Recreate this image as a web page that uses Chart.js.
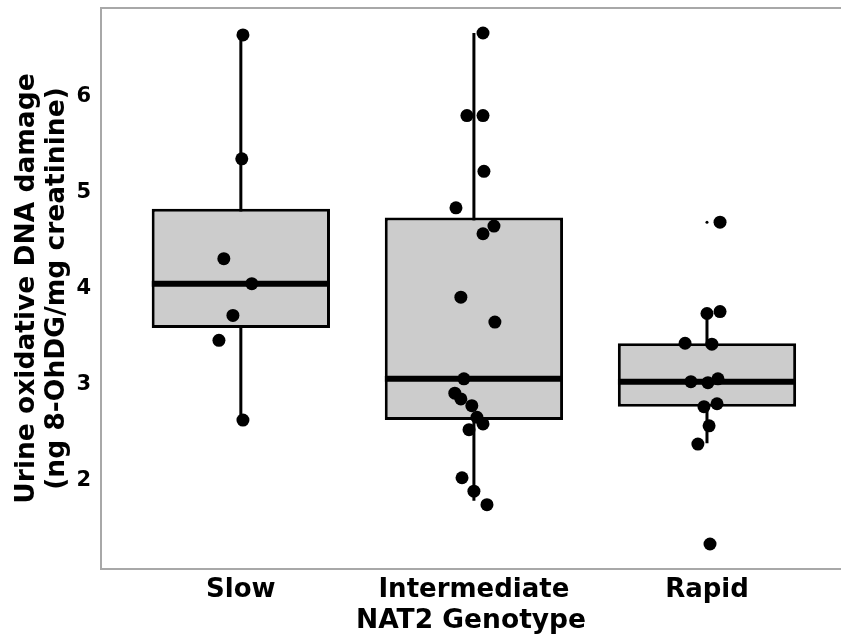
<!DOCTYPE html>
<html>
<head>
<meta charset="utf-8">
<script src="https://cdn.jsdelivr.net/npm/chart.js@4.4.1/dist/chart.umd.min.js"></script>
<style>
html, body { margin: 0; padding: 0; background: #fff; overflow: hidden; }
#boxCanvas { display: block; }
</style>
</head>
<body>
<canvas id="boxCanvas" width="841" height="641"></canvas>
<script>
var groups = ["Slow", "Intermediate", "Rapid"];
var yTicks = [2, 3, 4, 5, 6];

// box summary
var q1Values = [3.59, 2.63, 2.77];
var medianValues = [4.05, 3.06, 3.03];
var q3Values = [4.83, 4.74, 3.43];
var whiskerLow = [2.63, 1.79, 2.39];
var whiskerHigh = [6.64, 6.66, 3.74];

// jittered points (x = jittered group position)
var slowX = [1.009, 1.004, 0.927, 1.047, 0.966, 0.906, 1.009];
var slowY = [6.64, 5.35, 4.31, 4.05, 3.72, 3.46, 2.63];
var interX = [2.039, 1.970, 2.039, 2.043, 1.923, 2.086, 2.039, 1.944, 2.090, 1.957, 1.918, 1.944, 1.991, 2.013, 2.039, 1.979, 1.949, 2.000, 2.056];
var interY = [6.66, 5.80, 5.80, 5.22, 4.84, 4.65, 4.57, 3.91, 3.65, 3.06, 2.91, 2.85, 2.78, 2.66, 2.59, 2.53, 2.03, 1.89, 1.75];
var rapidX = [3.056, 3.000, 3.056, 2.906, 3.021, 2.931, 3.004, 3.047, 2.987, 3.043, 3.009, 2.961, 3.013];
var rapidY = [4.69, 3.74, 3.76, 3.43, 3.42, 3.03, 3.02, 3.06, 2.77, 2.80, 2.57, 2.38, 1.34];

// boxplot outliers for Rapid
var outlierX = [3, 3];
var outlierY = [4.69, 1.34];

var halfBox = 0.382;
var fontFamily = "'DejaVu Sans', sans-serif";

var boxData = groups.map(function (g, i) { return {x: i + 1, y: [q1Values[i], q3Values[i]]}; });
var whiskerData = [];
var medianData = [];
groups.forEach(function (g, i) {
  whiskerData.push({x: i + 1, y: whiskerLow[i]}, {x: i + 1, y: whiskerHigh[i]}, {x: i + 1, y: null});
  medianData.push({x: i + 1 - halfBox, y: medianValues[i]}, {x: i + 1 + halfBox, y: medianValues[i]}, {x: i + 1.5, y: null});
});
function toPoints(xs, ys) { return xs.map(function (x, i) { return {x: x, y: ys[i]}; }); }
var pointData = toPoints(slowX, slowY).concat(toPoints(interX, interY), toPoints(rapidX, rapidY));

// panel border: top, left, bottom (right edge falls outside the picture)
var panelBorder = {
  id: "panelBorder",
  afterDatasetsDraw: function (chart) {
    var a = chart.chartArea, ctx = chart.ctx;
    ctx.save();
    ctx.strokeStyle = "#a8a8a8";
    ctx.lineWidth = 2;
    ctx.beginPath();
    ctx.moveTo(chart.width, a.top);
    ctx.lineTo(a.left, a.top);
    ctx.lineTo(a.left, a.bottom);
    ctx.lineTo(chart.width, a.bottom);
    ctx.stroke();
    ctx.restore();
  }
};

new Chart("boxCanvas", {
  type: "bar",
  data: {
    datasets: [
      {
        type: "scatter",
        data: pointData,
        backgroundColor: "#000",
        borderWidth: 0,
        pointRadius: 6.5,
        order: 0
      },
      {
        type: "scatter",
        data: toPoints(outlierX, outlierY),
        backgroundColor: "#000",
        borderWidth: 0,
        pointRadius: 1.5,
        order: 1
      },
      {
        type: "line",
        data: medianData,
        borderColor: "#000",
        borderWidth: 6,
        borderCapStyle: "butt",
        pointRadius: 0,
        spanGaps: false,
        order: 2
      },
      {
        type: "bar",
        data: boxData,
        backgroundColor: "#cccccc",
        borderColor: "#000",
        borderWidth: 3,
        borderSkipped: false,
        barPercentage: 0.765,
        categoryPercentage: 1,
        order: 3
      },
      {
        type: "line",
        data: whiskerData,
        borderColor: "#000",
        borderWidth: 3,
        pointRadius: 0,
        spanGaps: false,
        order: 4
      }
    ]
  },
  options: {
    responsive: false,
    devicePixelRatio: 1,
    animation: false,
    layout: {autoPadding: false, padding: {top: 8, left: 0, right: 0, bottom: 0}},
    plugins: {
      legend: {display: false},
      tooltip: {enabled: false}
    },
    scales: {
      x: {
        type: "linear",
        min: 0.4,
        max: 3.575,
        offset: false,
        afterBuildTicks: function (axis) {
          axis.ticks = groups.map(function (g, i) { return {value: i + 1}; });
        },
        afterFit: function (axis) {
          axis.height = 72;
          axis.paddingLeft = 0;
          axis.paddingRight = 0;
        },
        grid: {display: false, drawTicks: false},
        border: {display: false},
        ticks: {
          autoSkip: false,
          maxRotation: 0,
          padding: 6,
          color: "#000",
          font: {family: fontFamily, size: 26, weight: "bold"},
          callback: function (value) { return groups[Math.round(value) - 1]; }
        },
        title: {
          display: true,
          text: "NAT2 Genotype",
          color: "#000",
          font: {family: fontFamily, size: 26.5, weight: "bold"},
          padding: {top: 0, bottom: 4}
        }
      },
      y: {
        min: 1.08,
        max: 6.92,
        afterBuildTicks: function (axis) {
          axis.ticks = yTicks.map(function (v) { return {value: v}; });
        },
        afterFit: function (axis) {
          axis.width = 101;
          axis.paddingTop = 0;
          axis.paddingBottom = 0;
        },
        grid: {display: false, drawTicks: false},
        border: {display: false},
        ticks: {
          padding: 10,
          color: "#000",
          font: {family: fontFamily, size: 21, weight: "bold"}
        },
        title: {
          display: true,
          text: ["Urine oxidative DNA damage", "(ng 8-OhDG/mg creatinine)"],
          color: "#000",
          font: {family: fontFamily, size: 26.5, weight: "bold", lineHeight: 1.1},
          padding: {top: 13, bottom: 0}
        }
      }
    }
  },
  plugins: [panelBorder]
});
</script>
</body>
</html>
